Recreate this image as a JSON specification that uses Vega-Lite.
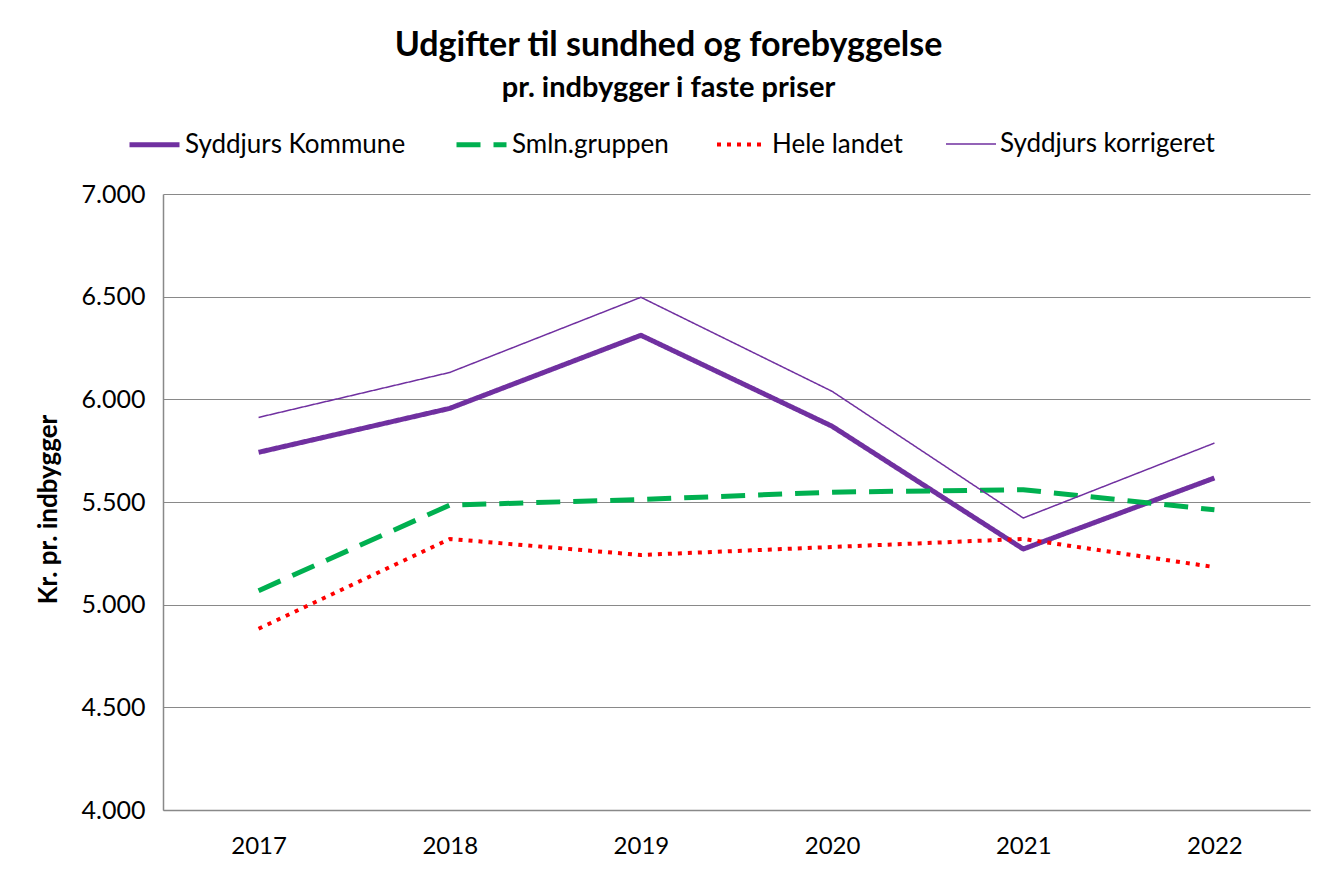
{
  "$schema": "https://vega.github.io/schema/vega-lite/v6.json",
  "autosize": {"type": "none"},
  "width": 1147,
  "height": 616,
  "padding": {"left": 163, "top": 194, "right": 33, "bottom": 59},
  "background": "white",
  "config": {
    "font": "Lato",
    "view": {"stroke": null}
  },
  "title": {
    "text": "Udgifter til sundhed og forebyggelse",
    "subtitle": "pr. indbygger i faste priser",
    "anchor": "middle",
    "dx": -68,
    "offset": 14,
    "fontSize": 34,
    "fontWeight": "bold",
    "color": "black",
    "subtitleFontSize": 29,
    "subtitleFontWeight": "bold",
    "subtitleColor": "black",
    "subtitlePadding": 11
  },
  "data": {
    "values": [
      {"year": "2017", "serie": "Syddjurs Kommune", "value": 5742},
      {"year": "2018", "serie": "Syddjurs Kommune", "value": 5956},
      {"year": "2019", "serie": "Syddjurs Kommune", "value": 6312},
      {"year": "2020", "serie": "Syddjurs Kommune", "value": 5869},
      {"year": "2021", "serie": "Syddjurs Kommune", "value": 5271},
      {"year": "2022", "serie": "Syddjurs Kommune", "value": 5617},
      {"year": "2017", "serie": "Smln.gruppen", "value": 5068},
      {"year": "2018", "serie": "Smln.gruppen", "value": 5485},
      {"year": "2019", "serie": "Smln.gruppen", "value": 5512},
      {"year": "2020", "serie": "Smln.gruppen", "value": 5548},
      {"year": "2021", "serie": "Smln.gruppen", "value": 5560},
      {"year": "2022", "serie": "Smln.gruppen", "value": 5462},
      {"year": "2017", "serie": "Hele landet", "value": 4883},
      {"year": "2018", "serie": "Hele landet", "value": 5320},
      {"year": "2019", "serie": "Hele landet", "value": 5242},
      {"year": "2020", "serie": "Hele landet", "value": 5281},
      {"year": "2021", "serie": "Hele landet", "value": 5320},
      {"year": "2022", "serie": "Hele landet", "value": 5183},
      {"year": "2017", "serie": "Syddjurs korrigeret", "value": 5912},
      {"year": "2018", "serie": "Syddjurs korrigeret", "value": 6131},
      {"year": "2019", "serie": "Syddjurs korrigeret", "value": 6497},
      {"year": "2020", "serie": "Syddjurs korrigeret", "value": 6039},
      {"year": "2021", "serie": "Syddjurs korrigeret", "value": 5422},
      {"year": "2022", "serie": "Syddjurs korrigeret", "value": 5787}
    ]
  },
  "mark": {"type": "line", "strokeJoin": "round"},
  "encoding": {
    "x": {
      "field": "year",
      "type": "ordinal",
      "scale": {"type": "point", "padding": 0.5},
      "axis": {
        "title": null,
        "labelAngle": 0,
        "labelFontSize": 24,
        "labelColor": "black",
        "labelPadding": 24,
        "ticks": false,
        "domainColor": "#898989",
        "domainWidth": 1.5,
        "grid": false
      }
    },
    "y": {
      "field": "value",
      "type": "quantitative",
      "scale": {"domain": [4000, 7000], "nice": false, "zero": false},
      "axis": {
        "values": [4000, 4500, 5000, 5500, 6000, 6500, 7000],
        "labelExpr": "replace(format(datum.value, ',.0f'), ',', '.')",
        "labelFontSize": 25,
        "labelColor": "black",
        "labelPadding": 18,
        "ticks": false,
        "domainColor": "#898989",
        "domainWidth": 1.5,
        "gridColor": "#898989",
        "gridWidth": 1.2,
        "title": "Kr. pr. indbygger",
        "titleFontSize": 26,
        "titleFontWeight": "bold",
        "titleColor": "black",
        "titleX": -115,
        "titleY": 315,
        "titleAngle": -90,
        "titleAlign": "center",
        "titleBaseline": "middle"
      }
    },
    "color": {
      "field": "serie",
      "type": "nominal",
      "scale": {
        "domain": ["Syddjurs Kommune", "Smln.gruppen", "Hele landet", "Syddjurs korrigeret"],
        "range": ["#7030A0", "#00B050", "#FF0000", "#7030A0"]
      },
      "legend": {
        "title": null,
        "orient": "none",
        "legendX": -36,
        "legendY": -77,
        "direction": "horizontal",
        "symbolType": "stroke",
        "symbolSize": 2500,
        "labelFontSize": 26,
        "labelColor": "black",
        "labelOffset": 3,
        "columnPadding": 40,
        "labelLimit": 400
      }
    },
    "strokeDash": {
      "field": "serie",
      "type": "nominal",
      "scale": {
        "domain": ["Syddjurs Kommune", "Smln.gruppen", "Hele landet", "Syddjurs korrigeret"],
        "range": [[1, 0], [24, 13], [4, 6], [1, 0]]
      },
      "legend": {"title": null}
    },
    "strokeWidth": {
      "field": "serie",
      "type": "ordinal",
      "scale": {
        "type": "ordinal",
        "domain": ["Syddjurs Kommune", "Smln.gruppen", "Hele landet", "Syddjurs korrigeret"],
        "range": [5, 5, 4, 1.5]
      },
      "legend": {"title": null}
    }
  }
}
